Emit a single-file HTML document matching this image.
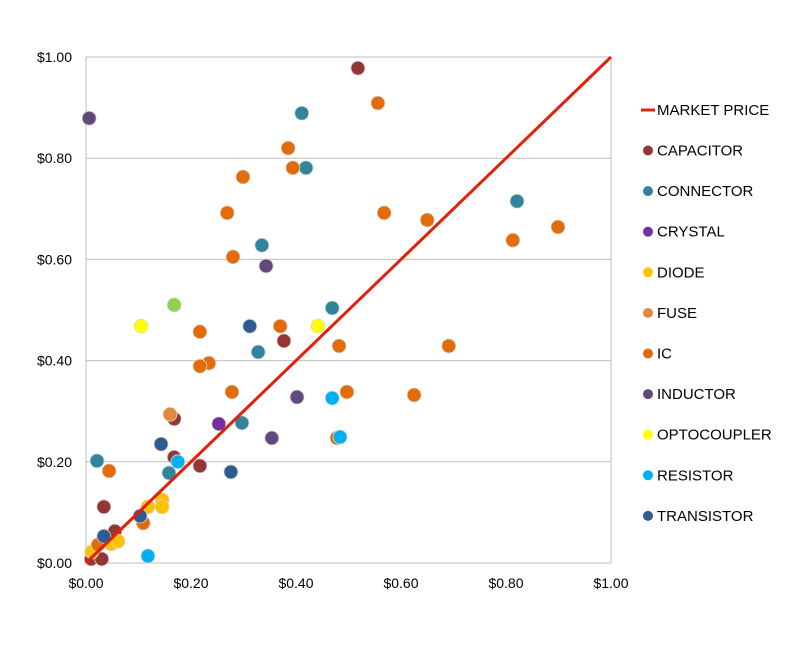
<!DOCTYPE html>
<html><head><meta charset="utf-8"><style>
body{margin:0;background:#fff;font-family:"Liberation Sans",sans-serif}
svg text{font-family:"Liberation Sans",sans-serif}
</style></head><body>
<svg id="c" width="800" height="646" xmlns="http://www.w3.org/2000/svg"></svg>
<script>
const yTicks=[0,0.2,0.4,0.6,0.8,1.0];
const xTicks=[0,0.2,0.4,0.6,0.8,1.0];
const seriesNames=["CAPACITOR","CONNECTOR","CRYSTAL","DIODE","FUSE","IC","INDUCTOR","OPTOCOUPLER","RESISTOR","TRANSISTOR"];
const capacitorX=[0.518,0.010,0.030,0.034,0.055,0.168,0.168,0.217,0.377];
const capacitorY=[0.978,0.008,0.008,0.111,0.063,0.285,0.209,0.192,0.439];
const connectorX=[0.411,0.419,0.821,0.335,0.328,0.469,0.297,0.158,0.021];
const connectorY=[0.889,0.781,0.715,0.628,0.417,0.504,0.277,0.178,0.202];
const crystalX=[0.253];const crystalY=[0.275];
const diodeX=[0.011,0.048,0.061,0.118,0.145,0.145];
const diodeY=[0.022,0.038,0.043,0.111,0.125,0.111];
const fuseX=[0.160];const fuseY=[0.294];
const otherX=[0.168];const otherY=[0.510];
const icX=[0.556,0.385,0.394,0.299,0.269,0.568,0.650,0.899,0.813,0.280,0.217,0.234,0.217,0.370,0.278,0.691,0.482,0.497,0.478,0.625,0.044,0.023,0.109];
const icY=[0.909,0.820,0.781,0.763,0.692,0.692,0.678,0.664,0.638,0.605,0.457,0.395,0.389,0.468,0.338,0.429,0.429,0.338,0.247,0.332,0.182,0.036,0.079];
const inductorX=[0.006,0.343,0.402,0.354];const inductorY=[0.879,0.587,0.328,0.247];
const optoX=[0.105,0.442];const optoY=[0.468,0.468];
const resistorX=[0.469,0.484,0.118,0.175];const resistorY=[0.326,0.249,0.014,0.200];
const transistorX=[0.312,0.276,0.143,0.103,0.034];const transistorY=[0.468,0.180,0.235,0.093,0.053];
const svg=document.getElementById('c');const NS='http://www.w3.org/2000/svg';
const X0=86,X1=611,Y0=563,Y1=57;
const sx=v=>X0+v*(X1-X0), sy=v=>Y0-v*(Y0-Y1);
function mk(t,a,p){const e=document.createElementNS(NS,t);for(const k in a)e.setAttribute(k,a[k]);(p||svg).appendChild(e);return e;}
const grid=mk('g',{});


yTicks.forEach(t=>{const l=mk('line',{x1:X0,x2:X1,y1:sy(t),y2:sy(t),stroke:'#bfbfbf','stroke-width':1},grid);


const tx=mk('text',{x:72,y:sy(t)+5,'text-anchor':'end','font-size':14,fill:'#000'});tx.textContent='$'+t.toFixed(2);

});
xTicks.forEach(t=>{const tx=mk('text',{x:sx(t),y:588,'text-anchor':'middle','font-size':14,fill:'#000'});tx.textContent='$'+t.toFixed(2);

});
const axY=mk('line',{x1:X0,x2:X0,y1:Y1,y2:Y0,stroke:'#bfbfbf'});


const axR=mk('line',{x1:X1,x2:X1,y1:Y1,y2:Y0,stroke:'#bfbfbf'});


const series=[[capacitorX,capacitorY,'#943634'],[connectorX,connectorY,'#31849B'],[crystalX,crystalY,'#7030A0'],[diodeX,diodeY,'#FFC000'],[fuseX,fuseY,'#E0883F'],[icX,icY,'#E36C09'],[inductorX,inductorY,'#604A7B'],[optoX,optoY,'#FFFF00'],[resistorX,resistorY,'#00B0F0'],[transistorX,transistorY,'#2F5B8F'],[otherX,otherY,'#92D050']];
series.forEach((s,i)=>{s[0].forEach((x,j)=>{const c=mk('circle',{cx:sx(x),cy:sy(s[1][j]),r:7,fill:s[2],stroke:'#d9d9d9','stroke-width':0.8});

});});
const ml=mk('line',{x1:sx(0),y1:sy(0),x2:sx(1),y2:sy(1),stroke:'#E3200B','stroke-width':3});


const lg=mk('g',{});


const lm=mk('line',{x1:641,x2:655,y1:110,y2:110,stroke:'#E3200B','stroke-width':3},lg);


const lt=mk('text',{x:657,y:115,'font-size':15,fill:'#000'},lg);lt.textContent='MARKET PRICE';


seriesNames.forEach((n,i)=>{const y=150.5+i*40.6;
const c=mk('circle',{cx:648,cy:y,r:5,fill:series[i][2]},lg);


const t=mk('text',{x:657,y:y+5,'font-size':15,fill:'#000'},lg);t.textContent=n;

});
</script>
</body></html>
